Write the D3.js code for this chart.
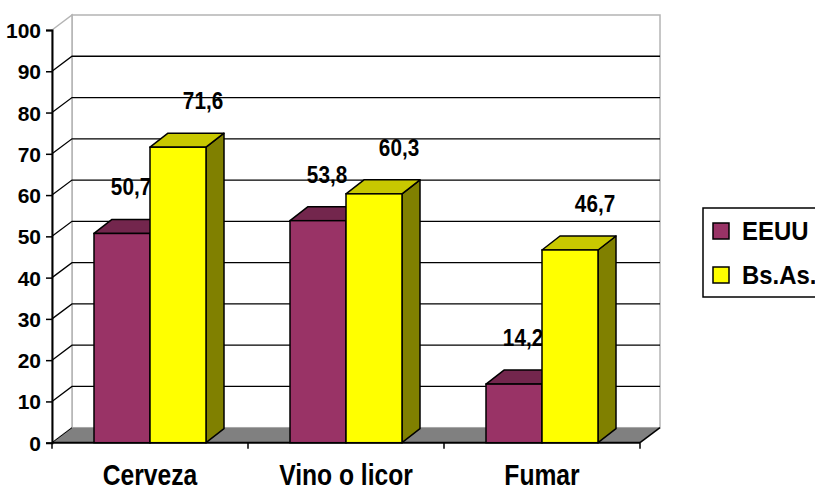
<!DOCTYPE html>
<html lang="es">
<head>
<meta charset="UTF-8">
<title>EEUU vs Bs.As.</title>
<style>
  body { margin: 0; background: #fff; }
  svg text { font-family: "Liberation Sans", Arial, sans-serif; font-weight: bold; fill: #000; }
</style>
</head>
<body>
<script src="https://d3js.org/d3.v7.min.js"></script>
<script>
  // data
  var categories = ["Cerveza", "Vino o licor", "Fumar"];
  var series = ["EEUU", "Bs.As."];
  var eeuu = [50.7, 53.8, 14.2];
  var bsas = [71.6, 60.3, 46.7];
  var yTicks = [0, 10, 20, 30, 40, 50, 60, 70, 80, 90, 100];

  var W = 815, H = 488;
  var plotLeft = 52, plotRight = 640, plotBottom = 442.7, plotTop = 30;
  var depth = {dx: 20, dy: -15};        // depth of the walls
  var barDepth = {dx: 18, dy: -14};     // depth of the columns

  var colors = {
    "EEUU": {front: "#993366", top: "#73264d", side: "#5c1f3d"},
    "Bs.As.": {front: "#ffff00", top: "#c8c800", side: "#808000"}
  };

  var svg = d3.select("body").append("svg")
    .attr("width", W)
    .attr("height", H);

  var y = d3.scaleLinear().domain([0, 100]).range([plotBottom, plotTop]);
  var x0 = d3.scaleBand().domain(categories).range([plotLeft, plotRight]);
  var x1 = d3.scaleBand().domain(series).range([0, x0.bandwidth()]).paddingOuter(0.75);

  var rows = categories.map(function(c, i) {
    return {cat: c, values: [{s: "EEUU", v: eeuu[i]}, {s: "Bs.As.", v: bsas[i]}]};
  });

  function pts(a) { return a.map(function(p) { return p.join(","); }).join(" "); }
  // squeeze Liberation Sans a bit so it looks like the narrow font of the original
  function place(xf, yf, sx) {
    return function(d, i) { return "translate(" + xf(d, i) + "," + yf(d, i) + ") scale(" + sx + ",1)"; };
  }

  // back wall
  svg.append("rect")
    .attr("x", plotLeft + depth.dx)
    .attr("y", y(100) + depth.dy)
    .attr("width", plotRight - plotLeft)
    .attr("height", y(0) - y(100))
    .attr("fill", "#fff")
    .attr("stroke", "#b4b4b4")
    .attr("stroke-width", 1.5);

  // left wall
  svg.append("polygon")
    .attr("points", pts([[plotLeft, y(0)], [plotLeft, y(100)], [plotLeft + depth.dx, y(100) + depth.dy], [plotLeft + depth.dx, y(0) + depth.dy]]))
    .attr("fill", "#fff")
    .attr("stroke", "#b4b4b4")
    .attr("stroke-width", 1.5);

  // floor
  svg.append("polygon")
    .attr("points", pts([[plotLeft, y(0)], [plotRight, y(0)], [plotRight + depth.dx, y(0) + depth.dy], [plotLeft + depth.dx, y(0) + depth.dy]]))
    .attr("fill", "#808080")
    .attr("stroke", "none");
  svg.append("line")
    .attr("x1", plotRight).attr("y1", y(0))
    .attr("x2", plotRight + depth.dx).attr("y2", y(0) + depth.dy)
    .attr("stroke", "#000").attr("stroke-width", 1.5);
  svg.append("line")
    .attr("x1", plotLeft).attr("y1", y(0))
    .attr("x2", plotLeft + depth.dx).attr("y2", y(0) + depth.dy)
    .attr("stroke", "#000").attr("stroke-width", 1);

  // gridlines on back and side wall
  var grid = yTicks.filter(function(t) { return t > 0 && t < 100; });
  svg.selectAll("polyline.grid")
    .data(grid)
    .enter()
    .append("polyline")
    .attr("class", "grid")
    .attr("points", function(t) {
      return pts([[plotLeft, y(t)], [plotLeft + depth.dx, y(t) + depth.dy], [plotRight + depth.dx, y(t) + depth.dy]]);
    })
    .attr("fill", "none")
    .attr("stroke", "#000")
    .attr("stroke-width", 1.3);

  // y axis
  var yAxis = d3.axisLeft(y)
    .tickValues(yTicks)
    .tickSize(6)
    .tickPadding(5);
  var gy = svg.append("g")
    .attr("transform", "translate(" + plotLeft + ",0)")
    .call(yAxis);
  gy.select(".domain").attr("stroke", "#000").attr("stroke-width", 2);
  gy.selectAll(".tick line").attr("stroke", "#000").attr("stroke-width", 1.5);
  gy.selectAll(".tick text")
    .attr("dy", "0.36em")
    .style("font-size", "21px");

  // x axis
  var gx = svg.append("g")
    .attr("transform", "translate(0," + y(0) + ")");
  gx.append("line")
    .attr("x1", plotLeft).attr("x2", plotRight)
    .attr("stroke", "#000").attr("stroke-width", 2);
  gx.selectAll("line.xt")
    .data(d3.range(categories.length + 1))
    .enter()
    .append("line")
    .attr("class", "xt")
    .attr("x1", function(i) { return plotLeft + i * x0.step(); })
    .attr("x2", function(i) { return plotLeft + i * x0.step(); })
    .attr("y1", 0).attr("y2", 6)
    .attr("stroke", "#000").attr("stroke-width", 1.5);
  gx.selectAll("text.cat")
    .data(categories)
    .enter()
    .append("text")
    .attr("class", "cat")
    .attr("transform", place(function(d) { return x0(d) + x0.bandwidth() / 2; }, function() { return 42; }, 0.85))
    .attr("text-anchor", "middle")
    .style("font-size", "29px")
    .text(function(d) { return d; });

  // value labels (drawn under the columns, as in the original)
  var labelShift = {"EEUU": 9, "Bs.As.": 25};
  var groups = svg.selectAll("g.cat")
    .data(rows)
    .enter()
    .append("g")
    .attr("class", "cat");

  groups.selectAll("text.val")
    .data(function(d) { return d.values.map(function(v) { return {cat: d.cat, s: v.s, v: v.v}; }); })
    .enter()
    .append("text")
    .attr("class", "val")
    .attr("transform", place(
      function(d) { return x0(d.cat) + x1(d.s) + x1.bandwidth() / 2 + labelShift[d.s]; },
      function(d) { return y(d.v) - 38; }, 0.9))
    .attr("text-anchor", "middle")
    .style("font-size", "23px")
    .text(function(d) { return String(d.v).replace(".", ","); });

  // columns
  var bars = groups.selectAll("g.bar")
    .data(function(d) { return d.values.map(function(v) { return {cat: d.cat, s: v.s, v: v.v}; }); })
    .enter()
    .append("g")
    .attr("class", "bar");

  function bx(d) { return x0(d.cat) + x1(d.s); }
  var bw = x1.bandwidth();

  bars.append("polygon")
    .attr("points", function(d) {
      var x = bx(d) + bw, t = y(d.v), b = y(0);
      return pts([[x, b], [x, t], [x + barDepth.dx, t + barDepth.dy], [x + barDepth.dx, b + barDepth.dy]]);
    })
    .attr("fill", function(d) { return colors[d.s].side; })
    .attr("stroke", "#000").attr("stroke-width", 1.5).attr("stroke-linejoin", "round");

  bars.append("polygon")
    .attr("points", function(d) {
      var x = bx(d), t = y(d.v);
      return pts([[x, t], [x + bw, t], [x + bw + barDepth.dx, t + barDepth.dy], [x + barDepth.dx, t + barDepth.dy]]);
    })
    .attr("fill", function(d) { return colors[d.s].top; })
    .attr("stroke", "#000").attr("stroke-width", 1.5).attr("stroke-linejoin", "round");

  bars.append("rect")
    .attr("x", bx)
    .attr("y", function(d) { return y(d.v); })
    .attr("width", bw)
    .attr("height", function(d) { return y(0) - y(d.v); })
    .attr("fill", function(d) { return colors[d.s].front; })
    .attr("stroke", "#000").attr("stroke-width", 1.5);

  // legend
  var lg = svg.append("g").attr("transform", "translate(703,208)");
  lg.append("rect")
    .attr("width", 130).attr("height", 89)
    .attr("fill", "#fff")
    .attr("stroke", "#000").attr("stroke-width", 1.5);
  var li = lg.selectAll("g.item")
    .data(series)
    .enter()
    .append("g")
    .attr("class", "item")
    .attr("transform", function(d, i) { return "translate(10," + (15 + i * 44) + ")"; });
  li.append("rect")
    .attr("width", 16).attr("height", 16)
    .attr("fill", function(d) { return colors[d].front; })
    .attr("stroke", "#000").attr("stroke-width", 1.5);
  li.append("text")
    .attr("transform", "translate(29,8) scale(0.92,1)")
    .attr("dy", "0.36em")
    .style("font-size", "26px")
    .text(function(d) { return d; });
</script>
</body>
</html>
